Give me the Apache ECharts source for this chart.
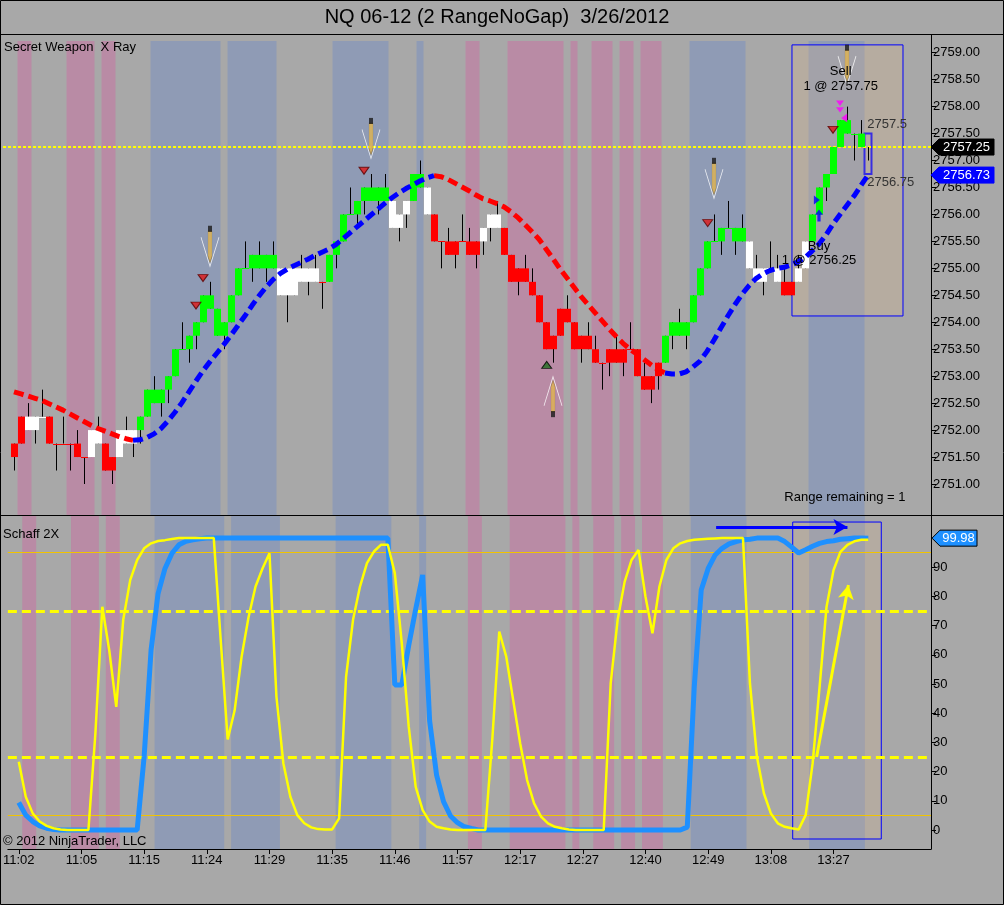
<!DOCTYPE html>
<html><head><meta charset="utf-8">
<script src="https://cdn.jsdelivr.net/npm/echarts@6/dist/echarts.min.js"></script>
<style>html,body{margin:0;padding:0;background:#a8a8a8}#c{width:1004px;height:905px}</style>
</head><body><div id="c"></div>
<script>
// ---------------- DATA ----------------
const timeLabels = ['11:02','11:05','11:15','11:24','11:29','11:35','11:46','11:57','12:17','12:27','12:40','12:49','13:08','13:27'];
const timeLabelBars = [0,9,18,27,36,45,54,63,72,81,90,99,108,117];
const priceTicks = [2751,2751.5,2752,2752.5,2753,2753.5,2754,2754.5,2755,2755.5,2756,2756.5,2757,2757.5,2758,2758.5,2759];
const schaffTicks = [0,10,20,30,40,50,60,70,80,90];

const barOpen = [2751.75,2752.25,2752.0,2752.0,2752.25,2752.25,2751.75,2751.75,2751.75,2751.75,
2751.5,2751.5,2751.75,2751.75,2751.5,2751.5,2751.75,2751.75,2752.0,2752.25,
2752.5,2752.5,2752.75,2753.0,2753.5,2753.5,2753.75,2754.0,2754.25,2753.75,
2753.75,2754.0,2754.5,2755.0,2755.0,2755.0,2755.0,2755.0,2755.0,2755.0,
2755.0,2754.75,2755.0,2754.75,2754.75,2754.75,2755.25,2755.5,2756.0,2756.0,
2756.25,2756.25,2756.25,2756.25,2756.25,2756.0,2756.0,2756.25,2756.5,2756.5,
2756.0,2755.5,2755.5,2755.5,2755.5,2755.5,2755.5,2755.5,2755.75,2756.0,
2755.75,2755.25,2755.0,2755.0,2754.75,2754.5,2754.0,2753.75,2754.25,2754.25,
2754.0,2753.75,2753.75,2753.5,2753.25,2753.5,2753.5,2753.5,2753.5,2753.5,
2753.0,2753.0,2753.25,2753.25,2753.75,2753.75,2753.75,2754.0,2754.5,2755.0,
2755.5,2755.5,2755.75,2755.5,2755.5,2755.5,2755.0,2755.0,2755.0,2754.75,
2754.75,2754.75,2754.75,2755.0,2755.5,2756.0,2756.5,2756.75,2757.25,2757.5,
2757.5,2757.25,2757.25];
const barClose = [2751.5,2751.75,2752.25,2752.25,2752.25,2751.75,2751.75,2751.75,2751.75,2751.5,
2751.5,2752.0,2752.0,2751.25,2751.25,2752.0,2752.0,2752.0,2752.25,2752.75,
2752.75,2752.75,2753.0,2753.5,2753.5,2753.75,2754.0,2754.5,2754.5,2754.25,
2754.0,2754.5,2755.0,2755.0,2755.25,2755.25,2755.25,2755.25,2754.5,2754.5,
2754.5,2755.0,2754.75,2755.0,2754.75,2755.25,2755.5,2756.0,2756.0,2756.25,
2756.5,2756.5,2756.5,2756.5,2755.75,2755.75,2756.25,2756.75,2756.75,2756.0,
2755.5,2755.5,2755.25,2755.25,2755.5,2755.25,2755.25,2755.75,2756.0,2755.75,
2755.25,2754.75,2754.75,2754.75,2754.5,2754.0,2753.5,2753.5,2753.75,2754.0,
2753.5,2753.5,2753.5,2753.25,2753.25,2753.25,2753.25,2753.25,2753.5,2753.0,
2752.75,2752.75,2753.0,2753.75,2754.0,2754.0,2754.0,2754.5,2755.0,2755.5,
2755.5,2755.75,2755.75,2755.75,2755.75,2755.0,2754.75,2754.75,2755.0,2755.0,
2754.5,2754.5,2755.0,2755.5,2756.0,2756.5,2756.75,2757.25,2757.75,2757.75,
2757.5,2757.5,2757.25];
const barLow = [2751.25,2751.75,2752.0,2751.75,2752.25,2751.75,2751.25,2751.75,2751.25,2751.5,
2751.0,2751.5,2751.75,2751.25,2751.0,2751.5,2751.75,2751.5,2751.75,2752.25,
2752.5,2752.25,2752.5,2753.0,2753.5,2753.25,2753.5,2754.0,2754.25,2753.75,
2753.5,2754.0,2754.5,2755.0,2754.75,2755.0,2754.75,2755.0,2754.5,2754.0,
2754.5,2754.75,2754.5,2754.75,2754.25,2754.75,2755.0,2755.5,2756.0,2755.75,
2756.0,2756.25,2756.0,2756.25,2755.75,2755.5,2755.75,2756.25,2756.5,2756.0,
2755.5,2755.0,2755.25,2755.0,2755.5,2755.25,2755.0,2755.25,2755.5,2755.75,
2755.25,2754.75,2754.5,2754.75,2754.5,2754.0,2753.5,2753.25,2753.75,2754.0,
2753.5,2753.25,2753.5,2753.25,2752.75,2753.0,2753.25,2753.0,2753.5,2753.0,
2752.75,2752.5,2752.75,2753.25,2753.5,2753.75,2753.5,2754.0,2754.5,2755.0,
2755.5,2755.25,2755.75,2755.25,2755.5,2755.0,2754.75,2754.5,2755.0,2754.75,
2754.5,2754.5,2754.75,2755.0,2755.5,2756.0,2756.25,2756.75,2757.25,2757.5,
2757.0,2757.25,2757.0];
const barHigh = [2751.75,2752.25,2752.5,2752.25,2752.75,2752.25,2751.75,2752.25,2751.75,2752.0,
2751.5,2752.0,2752.25,2751.75,2751.5,2752.0,2752.25,2752.0,2752.25,2752.75,
2753.0,2752.75,2753.0,2753.5,2754.0,2753.75,2754.0,2754.5,2754.75,2754.25,
2754.0,2754.5,2755.0,2755.5,2755.25,2755.5,2755.25,2755.5,2755.0,2755.0,
2755.0,2755.25,2755.0,2755.25,2754.75,2755.25,2755.5,2756.0,2756.5,2756.25,
2756.5,2756.75,2756.5,2756.75,2756.25,2756.0,2756.25,2756.75,2757.0,2756.5,
2756.0,2755.5,2755.75,2755.5,2756.0,2755.75,2755.5,2755.75,2756.0,2756.25,
2755.75,2755.25,2755.0,2755.25,2755.0,2754.5,2754.0,2753.75,2754.25,2754.5,
2754.0,2753.75,2754.0,2753.75,2753.25,2753.5,2753.75,2753.5,2754.0,2753.5,
2753.25,2753.0,2753.25,2753.75,2754.0,2754.25,2754.0,2754.5,2755.0,2755.5,
2756.0,2755.75,2756.25,2755.75,2756.0,2755.5,2755.25,2755.0,2755.5,2755.25,
2755.0,2754.75,2755.25,2755.5,2756.0,2756.5,2756.75,2757.25,2757.75,2758.0,
2757.5,2757.75,2757.25];
// bar paint: g = green, r = red, w = white, h = open (range box) bar
const barPaint = ('rrwwwrrrrrrwwrrwwwgggggggggggggggggggg' + 'wwwwwwrgggggggggwwwggwrrrrrrrwwwrrrrrrrrrrrrrrrrrrrrrrr' + 'ggggggggggggwwwwwrrwwggggggggh').split('');

const maLine = [2752.71,2752.67,2752.63,2752.59,2752.55,2752.49,2752.43,2752.37,2752.30,2752.23,
2752.16,2752.09,2752.03,2751.98,2751.93,2751.88,2751.84,2751.81,2751.82,2751.86,
2751.93,2752.03,2752.17,2752.33,2752.51,2752.71,2752.91,2753.10,2753.27,2753.43,
2753.59,2753.76,2753.94,2754.12,2754.31,2754.49,2754.65,2754.79,2754.90,2754.98,
2755.05,2755.11,2755.17,2755.24,2755.30,2755.36,2755.44,2755.55,2755.66,2755.77,
2755.88,2755.99,2756.10,2756.21,2756.31,2756.40,2756.48,2756.55,2756.62,2756.68,
2756.72,2756.70,2756.65,2756.58,2756.51,2756.44,2756.36,2756.29,2756.25,2756.20,
2756.14,2756.05,2755.94,2755.81,2755.68,2755.54,2755.36,2755.18,2754.99,2754.82,
2754.65,2754.48,2754.33,2754.18,2754.03,2753.88,2753.74,2753.61,2753.50,2753.41,
2753.31,2753.21,2753.12,2753.06,2753.04,2753.04,2753.08,2753.17,2753.28,2753.46,
2753.67,2753.90,2754.12,2754.33,2754.52,2754.68,2754.81,2754.90,2754.96,2755.00,
2755.02,2755.06,2755.12,2755.20,2755.32,2755.45,2755.62,2755.82,2756.00,2756.17,
2756.34,2756.54,2756.73];
const maDownSegments = [[0,17],[60,93]];
const maUpSegments = [[17,60],[93,122]];

const schaffFast = [23.4,11.4,5.7,2.9,1.4,0.6,0.2,0,0,0,
0,33,76.5,61.4,42.2,72,85.6,92.5,96.5,98.2,
99,99.3,99.7,100,100,100,100,100,100,65,
31,41,59.4,73,83.4,89.6,94.8,45.7,22.8,11.4,
5.1,2.3,0.9,0.3,0.2,0.2,4,52.5,72,83.4,
91.4,95.4,97.7,97.7,88,64,35.4,14.8,6.8,2.9,
1.1,0.6,0.2,0,0,0,0,0,31,68,
59.4,44.5,29.7,17.1,9.1,4.6,2.3,1.1,0.6,0.2,
0,0,0,0,0,50.2,72,85,92.5,95.9,
79.9,67.4,83.4,92.5,96.5,98.2,99,99.4,99.6,99.8,
99.9,100,100,100,100,50.2,25.1,12.6,5.7,2.3,
1.1,0.6,0.2,5.1,22.8,49,76.5,89,95.3,97.7,
98.9,99.4,99.4];
const schaffSlow = [9.4,5.1,2.9,1.4,0.6,0.2,0,0,0,0,
0,0,0,0,0,0,0,0,25.1,61.7,
81,89.6,94.8,97.7,98.9,99.4,99.8,100,100,100,
100,100,100,100,100,100,100,100,100,100,
100,100,100,100,100,100,100,100,100,100,
100,100,100,100,49.7,49.7,63.3,75.6,87.4,37.4,
18.8,9.7,4.8,2.5,1.1,0.5,0,0,0,0,
0,0,0,0,0,0,0,0,0,0,
0,0,0,0,0,0,0,0,0,0,
0,0,0,0,0,0,1,49,82.2,89.6,
94.2,96.5,98,98.8,99.4,99.6,100,100,100,100,
98.8,96.9,94.9,96,97.2,98.2,98.8,99.1,99.6,99.8,
100,100,99.98];

const pinkBands = [[1,2],[8,11],[13,14],[65,66],[71,78],[80,80],[83,85],[87,88],[90,92]];
const blueBands = [[20,29],[31,37],[46,53],[58,58],[97,104],[114,121]];

const lastPrice = 2757.25;
const maLast = 2756.73;
const schaffLast = 99.98;
const rangeBox = [122, 2756.75, 2757.5];
const sellSignals = [[28,2755.41],[51,2757.41],[100,2756.67],[119,2758.77]];
const buySignals = [[77,2752.62]];
const redMarks = [[26,2754.31],[27,2754.82],[50,2756.81],[99.1,2755.84],[117,2757.57]];
const greenMarks = [[76.1,2753.21]];
const tradeBox = [[111.14,2759.145],[127.0,2754.117]];
const tradeBoxLower = [[111.14,105.5],[123.86,-3.08]];
const notes = [
  ['Sell',118.1,2758.65,'center','#000'],
  ['1 @ 2757.75',118.1,2758.37,'center','#000'],
  ['Buy',115,2755.40,'center','#000'],
  ['1 @ 2756.25',115,2755.14,'center','#000'],
  ['2757.5',121.9,2757.67,'left','#333'],
  ['2756.75',121.9,2756.60,'left','#333'],
  ['Range remaining = 1',118.7,2750.75,'center','#000']
];

// ---------------- CHART ----------------
const FONT = '"Liberation Sans", Arial, sans-serif';
const X_MIN = -1.571, X_MAX = 131;
const chart = echarts.init(document.getElementById('c'));
const paintColor = {g:'#00ff00', r:'#ff0000', w:'#ffffff', h:null};
const candleData = barOpen.map((o,i)=>[i,o,barClose[i],barLow[i],barHigh[i]]);
function segData(vals, segs){ return vals.map((v,i)=>[i, segs.some(s=>i>=s[0]&&i<=s[1]) ? v : null]); }
function bandAreas(list){ return list.map(b=>[{xAxis:b[0]-0.5},{xAxis:b[1]+0.5}]); }
const xIdx = v => timeLabelBars.indexOf(Math.round(v));

function bandSeries(grid, list, color){
  return {type:'line', xAxisIndex:grid, yAxisIndex:grid, data:[], z:1, silent:true,
    markArea:{silent:true, itemStyle:{color:color}, data:bandAreas(list)}};
}
// signal arrow glyph built from three stacked symbols (outline V, gold spindle, dark cap)
function signalSeries(points, up){
  const s = up ? -1 : 1;
  const base = {type:'scatter',xAxisIndex:0,yAxisIndex:0,z:8,data:points,silent:true,symbolRotate: up ? 180 : 0};
  return [
    Object.assign({}, base, {symbol:'path://M0,0L9,29L18,0', symbolSize:[18,29], symbolOffset:[0,5.5*s],
      itemStyle:{color:'rgba(0,0,0,0)',borderColor:'#ffffff',borderWidth:1}}),
    Object.assign({}, base, {symbol:'path://M0,0L4,0L4,25L2,31L0,25Z', symbolSize:[4,31], symbolOffset:[0,0.5*s],
      itemStyle:{color:'#e0b450',borderColor:'#8a6a2a',borderWidth:0.5}}),
    Object.assign({}, base, {symbol:'rect', symbolSize:[4,6], symbolOffset:[0,-17.5*s],
      itemStyle:{color:'#1a1a1a'}})
  ];
}

const option = {
  animation:false,
  backgroundColor:'#a8a8a8',
  grid:[{left:3,right:73,top:41,height:474},{left:3,right:73,top:516,height:333}],
  xAxis:[
    {gridIndex:0,type:'value',min:X_MIN,max:X_MAX,axisLine:{show:true,onZero:false,lineStyle:{color:'#000'}},axisTick:{show:false},axisLabel:{show:false},splitLine:{show:false}},
    {gridIndex:1,type:'value',min:X_MIN,max:X_MAX,axisLine:{show:true,onZero:false,lineStyle:{color:'#000'}},
      axisTick:{show:true,length:5,lineStyle:{color:'#000'},customValues:timeLabelBars},
      axisLabel:{customValues:timeLabelBars,formatter:v=>timeLabels[xIdx(v)]||'',color:'#000',fontSize:13,fontFamily:FONT,margin:5},
      splitLine:{show:false}}
  ],
  yAxis:[
    {gridIndex:0,type:'value',position:'right',min:2750.425,max:2759.217,
      axisLine:{show:true,onZero:false,lineStyle:{color:'#000'}},
      axisTick:{show:true,length:5,lineStyle:{color:'#000'},customValues:priceTicks},
      axisLabel:{customValues:priceTicks,formatter:v=>v.toFixed(2),color:'#000',fontSize:13,fontFamily:FONT,margin:2},
      splitLine:{show:false}},
    {gridIndex:1,type:'value',position:'right',min:-6.51,max:107.57,
      axisLine:{show:true,onZero:false,lineStyle:{color:'#000'}},
      axisTick:{show:true,length:5,lineStyle:{color:'#000'},customValues:schaffTicks},
      axisLabel:{customValues:schaffTicks,formatter:v=>String(v),color:'#000',fontSize:13,fontFamily:FONT,margin:2},
      splitLine:{show:false}}
  ],
  series:[
    bandSeries(0,pinkBands,'#b98ba5'),
    bandSeries(0,blueBands,'#8f9bb5'),
    bandSeries(1,pinkBands,'#b98ba5'),
    bandSeries(1,blueBands,'#8f9bb5'),
    // price bars
    {type:'custom',xAxisIndex:0,yAxisIndex:0,z:5,data:candleData,
      encode:{x:0,y:[1,2,3,4]},
      renderItem:function(params,api){
        const i=params.dataIndex, x=api.value(0);
        const o=api.value(1), c=api.value(2), l=api.value(3), h=api.value(4);
        const pl=api.coord([x,l]), ph=api.coord([x,h]);
        const pt=api.coord([x,Math.max(o,c)]), pb=api.coord([x,Math.min(o,c)]);
        const w=api.size([1,0])[0];
        const cx=Math.round(pl[0])+0.5;
        const kids=[{type:'line',shape:{x1:cx,y1:pl[1],x2:cx,y2:ph[1]},style:{stroke:'#000',lineWidth:1}}];
        const col=paintColor[barPaint[i]];
        if(col){
          if(Math.abs(pb[1]-pt[1])<1){
            kids.push({type:'line',shape:{x1:cx-w/2,y1:Math.round(pt[1])+0.5,x2:cx+w/2,y2:Math.round(pt[1])+0.5},style:{stroke:col,lineWidth:1}});
          } else {
            kids.push({type:'rect',shape:{x:cx-w/2,y:pt[1],width:w,height:pb[1]-pt[1]},style:{fill:col}});
          }
        }
        return {type:'group',children:kids};
      }},
    // moving average (down = red, up = blue)
    {type:'line',xAxisIndex:0,yAxisIndex:0,z:6,data:segData(maLine,maDownSegments),showSymbol:false,symbol:'none',
      lineStyle:{color:'#ff0000',width:5,type:[10,5]},
      markLine:{silent:true,symbol:['none','none'],label:{show:false},lineStyle:{color:'#ffff00',width:2,type:[3,2]},data:[{yAxis:lastPrice}]}},
    {type:'line',xAxisIndex:0,yAxisIndex:0,z:6,data:segData(maLine,maUpSegments),showSymbol:false,symbol:'none',
      lineStyle:{color:'#0000ff',width:5,type:[10,5]},
      markArea:{silent:true,itemStyle:{color:'rgba(0,0,0,0)',borderColor:'#0000ff',borderWidth:2},
        data:[[{coord:[rangeBox[0]-0.5,rangeBox[2]]},{coord:[rangeBox[0]+0.5,rangeBox[1]]}]]}},
    // trade box overlay (top)
    {type:'line',xAxisIndex:0,yAxisIndex:0,z:7,data:[],silent:true,
      markArea:{silent:true,itemStyle:{color:'rgba(222,184,135,0.25)',borderColor:'#0000ff',borderWidth:1},
        data:[[{coord:tradeBox[0]},{coord:tradeBox[1]}]]}},
    // signal markers
    ...signalSeries(sellSignals,false),
    ...signalSeries(buySignals,true),
    {type:'scatter',xAxisIndex:0,yAxisIndex:0,z:8,data:redMarks,symbol:'path://M0,0L10,0L5,7Z',symbolSize:[10,7],
      itemStyle:{color:'#e01818',borderColor:'#5a0000',borderWidth:1}},
    {type:'scatter',xAxisIndex:0,yAxisIndex:0,z:8,data:greenMarks,symbol:'path://M5,0L10,7L0,7Z',symbolSize:[10,7],
      itemStyle:{color:'#1f6e1f',borderColor:'#000',borderWidth:1}},
    {type:'scatter',xAxisIndex:0,yAxisIndex:0,z:8,data:[[115,2755.98]],symbol:'path://M5,0L10,6L7,6L7,14L3,14L3,6L0,6Z',symbolSize:[8,12],
      itemStyle:{color:'#0000ff'}},
    {type:'scatter',xAxisIndex:0,yAxisIndex:0,z:8,data:[[114.7,2756.27]],symbol:'path://M0,0L7,5L0,10Z',symbolSize:[6,9],
      itemStyle:{color:'#0000ff'}},
    {type:'scatter',xAxisIndex:0,yAxisIndex:0,z:8,data:[[118,2758.0]],symbol:'path://M0,0L8,0L4,5ZM0,6L8,6L4,11Z',symbolSize:[8,12],
      itemStyle:{color:'#ff00ff'}},
    {type:'scatter',xAxisIndex:0,yAxisIndex:0,z:8,data:[[118.6,2757.79]],symbol:'path://M7,0L7,10L0,5Z',symbolSize:[6,9],
      itemStyle:{color:'#ff00ff'}},
    // Schaff
    {type:'line',xAxisIndex:1,yAxisIndex:1,z:5,data:schaffSlow.map((v,i)=>[i,v]),showSymbol:false,symbol:'none',
      lineStyle:{color:'#1e90ff',width:5},
      markLine:{silent:true,symbol:['none','none'],label:{show:false},data:[
        {yAxis:95,lineStyle:{color:'#f0c400',width:1,type:'solid'}},
        {yAxis:5,lineStyle:{color:'#f0c400',width:1,type:'solid'}},
        {yAxis:75,lineStyle:{color:'#ffff00',width:3,type:[9,5]}},
        {yAxis:25,lineStyle:{color:'#ffff00',width:3,type:[9,5]}}
      ]}},
    {type:'line',xAxisIndex:1,yAxisIndex:1,z:6,data:schaffFast.map((v,i)=>[i,v]),showSymbol:false,symbol:'none',
      lineStyle:{color:'#ffff00',width:2.5}},
    // trade box overlay (bottom) + arrows
    {type:'line',xAxisIndex:1,yAxisIndex:1,z:7,data:[],silent:true,
      markArea:{silent:true,itemStyle:{color:'rgba(222,184,135,0.22)',borderColor:'#0000ff',borderWidth:1},
        data:[[{coord:tradeBoxLower[0]},{coord:tradeBoxLower[1]}]]},
      markLine:{silent:true,label:{show:false},symbolSize:[12,14],data:[
        [{coord:[100.14,103.8],symbol:'none',lineStyle:{color:'#0000ff',width:3,type:'solid'}},{coord:[119,103.8],symbol:'arrow'}],
        [{coord:[114.57,25.0],symbol:'none',lineStyle:{color:'#ffff00',width:3,type:'solid'}},{coord:[119.14,83.9],symbol:'arrow'}]
      ]}}
  ]
};
chart.setOption(option);

// ---------------- ANNOTATIONS ----------------
function toPx(grid,x,y){ return chart.convertToPixel({gridIndex:grid},[x,y]); }
const g = [];
function txt(x,y,text,opts,z){ g.push({type:'text',x:x,y:y,z:z||200,style:Object.assign({text:text,fill:'#000',font:'13px '+FONT,align:'left',verticalAlign:'middle'},opts||{})}); }
// frame lines
g.push({type:'rect',shape:{x:0.5,y:0.5,width:1003,height:904},style:{fill:'none',stroke:'#000',lineWidth:1},z:150});
g.push({type:'line',shape:{x1:0,y1:34.5,x2:1004,y2:34.5},style:{stroke:'#000',lineWidth:1},z:150});
g.push({type:'line',shape:{x1:0,y1:515.5,x2:1004,y2:515.5},style:{stroke:'#000',lineWidth:1},z:150});
const axR = toPx(0,X_MAX,2759)[0];
g.push({type:'line',shape:{x1:Math.round(axR)+0.5,y1:34,x2:Math.round(axR)+0.5,y2:42},style:{stroke:'#000',lineWidth:1},z:150});
// titles
txt(497,17,'NQ 06-12 (2 RangeNoGap)  3/26/2012',{font:'20px '+FONT,align:'center'});
txt(4,47,'Secret Weapon  X Ray');
txt(3,534,'Schaff 2X');
txt(3,841,'\u00a9 2012 NinjaTrader, LLC');
// notes
notes.forEach(n=>{ const p=toPx(0,n[1],n[2]); txt(p[0],p[1],n[0],{align:n[3],fill:n[4]}); });
// axis tags
function tag(y,text,fill,stroke,x0,x1){
  g.push({type:'polygon',z:210,shape:{points:[[x0,y],[x0+8,y-8],[x1,y-8],[x1,y+8],[x0+8,y+8]]},style:{fill:fill,stroke:stroke||fill,lineWidth:1}});
  txt((x0+8+x1)/2,y,text,{fill:'#fff',align:'center'},220);
}
tag(toPx(0,0,lastPrice)[1],lastPrice.toFixed(2),'#000000',null,axR,axR+63);
tag(toPx(0,0,maLast)[1],maLast.toFixed(2),'#0000ff',null,axR,axR+63);
tag(toPx(1,0,schaffLast)[1],schaffLast.toFixed(2),'#1e90ff','#000',axR+1,axR+46);
chart.setOption({graphic:g});
</script>
</body></html>
